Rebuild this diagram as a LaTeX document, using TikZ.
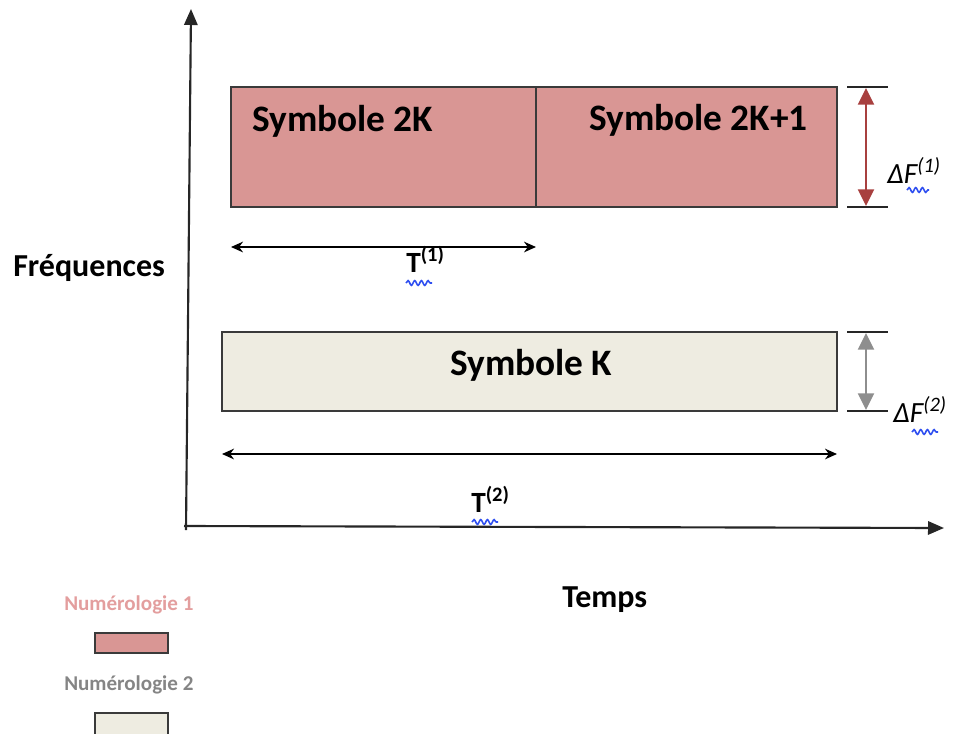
\documentclass[tikz,border=0pt]{standalone}
\usepackage{fontspec}
\setmainfont{Carlito}
\usetikzlibrary{arrows.meta,decorations.pathmorphing}

\definecolor{numone}{HTML}{D99694}
\definecolor{numtwo}{HTML}{EEECE1}
\definecolor{boxline}{HTML}{3A3A3A}
\definecolor{dfred}{HTML}{A8403F}
\definecolor{dfgray}{HTML}{8E8E8E}
\definecolor{legone}{HTML}{E39E9E}
\definecolor{legtwo}{HTML}{858585}
\definecolor{spell}{HTML}{2F4FF0}

\tikzset{
  axis/.style={line width=1.6pt, draw=black!85, -{Triangle[length=12pt,width=10pt]}},
  slot/.style={draw=boxline, line width=1.1pt},
  symlabel/.style={inner sep=0pt, anchor=base west,
    font=\fontsize{28}{30}\selectfont\bfseries},
  axlabel/.style={inner sep=0pt, anchor=base west,
    font=\fontsize{24}{26}\selectfont\bfseries},
  leglabel/.style={inner sep=0pt, anchor=base west,
    font=\fontsize{15.8}{17}\selectfont\bfseries},
  tick/.style={line width=1.1pt, draw=black!85},
  span/.style={line width=1.6pt, {Triangle[length=12.5pt,width=12pt]}-{Triangle[length=12.5pt,width=12pt]}},
  dur/.style={line width=1.2pt, {Stealth[length=9pt,width=8pt]}-{Stealth[length=9pt,width=8pt]}},
  dlabel/.style={inner sep=0pt, anchor=base west,
    font=\fontsize{22}{24}\selectfont\itshape},
  tlabel/.style={inner sep=0pt, anchor=base west,
    font=\fontsize{22}{24}\selectfont\bfseries},
  squiggle/.style={draw=spell, line width=1.2pt,
    decorate, decoration={snake, amplitude=1.8pt, segment length=5pt}}
}

\begin{document}
\begin{tikzpicture}[x=0.75pt,y=-0.75pt]
\clip (0,0) rectangle (954,733);

% axes
\coordinate (origin) at (186,530);
\coordinate (ytop) at (191,9);
\coordinate (xorig) at (184,526);
\coordinate (xend) at (944,528);
\draw[axis] (origin) -- (ytop);
\draw[axis] (xorig) -- (xend);

% numerology 1 : two short symbols
\draw[slot, fill=numone] (231,87) rectangle (837,207);
\draw[slot] (536,87) -- (536,207);
\node[symlabel] (s2k) at (252,131) {Symbole 2K};
\node[symlabel] (s2k1) at (589,130) {Symbole 2K+1};

% numerology 2 : one long symbol
\draw[slot, fill=numtwo] (222,332) rectangle (837,411);
\node[symlabel] (sk) at (450,375) {Symbole K};

% bandwidth of numerology 1
\coordinate (d1tl) at (847,87);  \coordinate (d1tr) at (888,87);
\coordinate (d1bl) at (847,207); \coordinate (d1br) at (888,207);
\coordinate (d1t) at (866,88);   \coordinate (d1b) at (866,206);
\draw[tick] (d1tl) -- (d1tr);
\draw[tick] (d1bl) -- (d1br);
\draw[span, draw=dfred, fill=dfred] (d1t) -- (d1b);
\node[dlabel] (df1) at (887,183) {ΔF\textsuperscript{(1)}};
\draw[squiggle] (907,190) -- (929,190);

% bandwidth of numerology 2
\coordinate (d2tl) at (847,332); \coordinate (d2tr) at (888,332);
\coordinate (d2bl) at (847,411); \coordinate (d2br) at (888,411);
\coordinate (d2t) at (866,333);  \coordinate (d2b) at (866,410);
\draw[tick] (d2tl) -- (d2tr);
\draw[tick] (d2bl) -- (d2br);
\draw[span, draw=dfgray, fill=dfgray] (d2t) -- (d2b);
\node[dlabel] (df2) at (893,422) {ΔF\textsuperscript{(2)}};
\draw[squiggle] (912,432) -- (938,432);

% symbol durations
\coordinate (t1l) at (231,247); \coordinate (t1r) at (536,247);
\draw[dur] (t1l) -- (t1r);
\node[tlabel] (t1) at (406,272) {T\textsuperscript{(1)}};
\draw[squiggle] (406,283) -- (432,283);

\coordinate (t2l) at (222,454); \coordinate (t2r) at (837,454);
\draw[dur] (t2l) -- (t2r);
\node[tlabel] (t2) at (471,512) {T\textsuperscript{(2)}};
\draw[squiggle] (472,522) -- (498,522);

% axis names
\node[axlabel] (freq) at (13,276) {Fréquences};
\node[axlabel] (temps) at (562,607) {Temps};

% legend
\node[leglabel, text=legone] (leg1) at (64,610) {Numérologie 1};
\draw[slot, fill=numone] (95,633) rectangle (168,653);
\node[leglabel, text=legtwo] (leg2) at (64,690) {Numérologie 2};
\draw[slot, fill=numtwo] (95,713) rectangle (168,745);
\end{tikzpicture}
\end{document}
